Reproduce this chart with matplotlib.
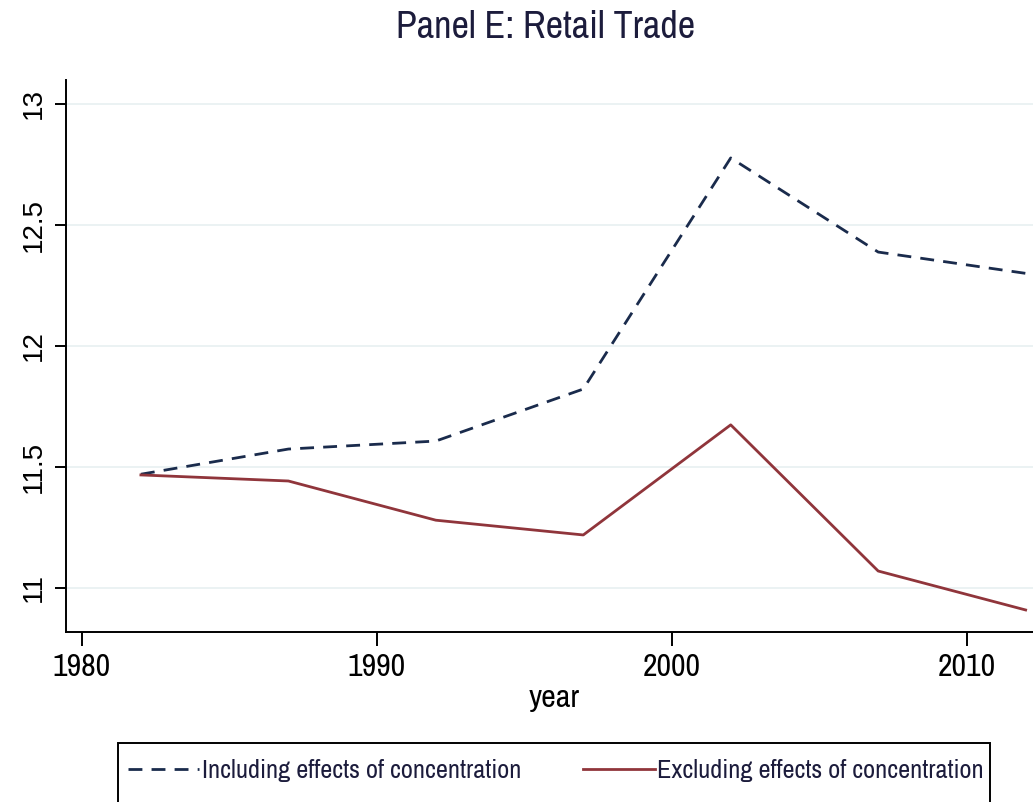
import matplotlib.pyplot as plt
from matplotlib import font_manager
from matplotlib.patches import Rectangle

# survey years
years = [1982, 1987, 1992, 1997, 2002, 2007, 2012]
incl_conc = [11.47, 11.574, 11.607, 11.822, 12.777, 12.388, 12.30]
excl_conc = [11.467, 11.442, 11.28, 11.219, 11.674, 11.07, 10.909]

navy = "#1a2b4c"
maroon = "#90353b"
grid_col = "#e9f1f2"

names = {f.name for f in font_manager.fontManager.ttflist}
narrow = "Liberation Sans"
for cand in ["Nimbus Sans Narrow", "Liberation Sans Narrow", "Arial Narrow",
             "Archivo Narrow", "Roboto Condensed", "IBM Plex Sans Condensed",
             "PT Sans Narrow"]:
    if cand in names:
        narrow = cand
        break

W, H = 1033, 802
fig = plt.figure(figsize=(W / 100, H / 100), dpi=100)
ax = fig.add_axes([66 / W, 1 - 632 / H, 1 - 66 / W + 0.01, (632 - 80) / H])

ax.plot(years, incl_conc, color=navy, lw=2.0, dashes=(5, 3.3),
        label="Including effects of concentration")
ax.plot(years, excl_conc, color=maroon, lw=2.0,
        label="Excluding effects of concentration")

ax.set_xlim(1979.46, 2012.6)
ax.set_ylim(10.818, 13.099)
ax.set_xticks([1980, 1990, 2000, 2010])
ax.set_yticks([11, 11.5, 12, 12.5, 13])
ax.set_yticklabels(["11", "11.5", "12", "12.5", "13"], rotation=90, va="center",
                   fontfamily="Liberation Sans", fontsize=20)
ax.set_xticklabels(["1980", "1990", "2000", "2010"], fontfamily=narrow, fontsize=23)
ax.tick_params(axis="x", length=10, width=1.4, pad=5, colors="black")
ax.tick_params(axis="y", length=8, width=1.4, pad=6, colors="black")
ax.grid(axis="y", color=grid_col, lw=1.3)
ax.set_axisbelow(True)
for s in ["top", "right"]:
    ax.spines[s].set_visible(False)
for s in ["left", "bottom"]:
    ax.spines[s].set_linewidth(1.4)

ax.set_xlabel("year", fontfamily=narrow, fontsize=23, labelpad=2)
fig.text(546 / W, 1 - 27 / H, "Panel E: Retail Trade", ha="center", va="center",
         fontfamily=narrow, fontsize=27.5, color="#1c1c3c")

# legend box runs off the bottom edge
fig.patches.append(Rectangle((118 / W, -0.02), (990 - 118) / W, 1 - 743 / H + 0.02,
                             transform=fig.transFigure, fill=False,
                             edgecolor="black", lw=1.4))
leg = fig.legend(loc="center left", ncol=2, bbox_to_anchor=(128 / W, 1 - 771 / H),
                 prop={"family": narrow, "size": 19}, frameon=False,
                 handlelength=2.7, handletextpad=0.1, borderpad=0, borderaxespad=0,
                 columnspacing=2.35)
for t in leg.get_texts():
    t.set_color("#1c1c3c")

fig.savefig("out.png", dpi=100)
